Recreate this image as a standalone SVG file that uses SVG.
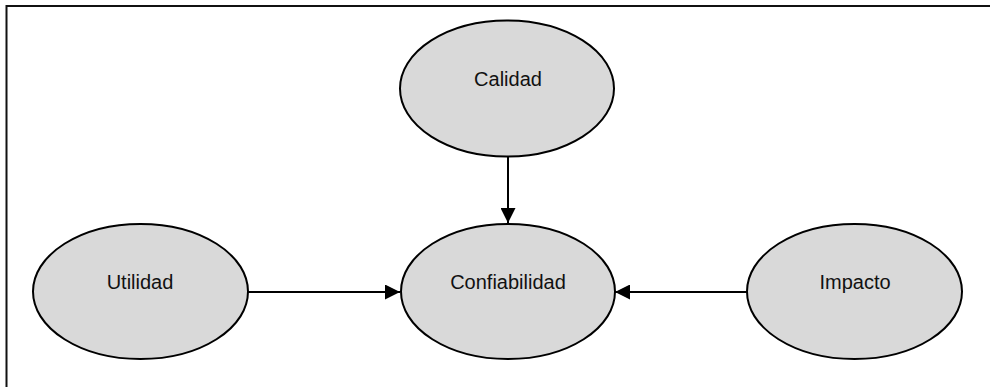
<svg xmlns="http://www.w3.org/2000/svg" width="990" height="387" viewBox="0 0 990 387">
<defs>
<style>
.node ellipse{fill:#d9d9d9;stroke:#000;stroke-width:2}
.node text{font-family:"Liberation Sans",Arial,sans-serif;font-size:20px;fill:#111;text-anchor:middle}
.edge{stroke:#000;stroke-width:2;fill:none;marker-end:url(#arr)}
.frame{stroke:#111;stroke-width:2;fill:none}
</style>
<marker id="arr" viewBox="0 0 15 15" refX="15" refY="7.5" markerWidth="15" markerHeight="15" markerUnits="userSpaceOnUse" orient="auto">
<path d="M0,0 L15,7.5 L0,15 Z" fill="#000"/>
</marker>
</defs>
<rect width="990" height="387" fill="#fff"/>
<path class="frame" d="M6.5,392 V6 H995"/>
<g id="connectors">
<line class="edge" x1="508" y1="157" x2="508" y2="223"/>
<line class="edge" x1="248" y1="292" x2="400" y2="292"/>
<line class="edge" x1="747" y1="292" x2="615" y2="292"/>
</g>
<g id="calidad" class="node">
<ellipse cx="507" cy="88.5" rx="107" ry="68"/>
<text x="508" y="86">Calidad</text>
</g>
<g id="utilidad" class="node">
<ellipse cx="140.5" cy="291.5" rx="107.5" ry="67.5"/>
<text x="140" y="289">Utilidad</text>
</g>
<g id="confiabilidad" class="node">
<ellipse cx="508" cy="291.5" rx="107" ry="67.5"/>
<text x="508" y="289">Confiabilidad</text>
</g>
<g id="impacto" class="node">
<ellipse cx="854.5" cy="291.5" rx="107.5" ry="67.5"/>
<text x="855" y="289">Impacto</text>
</g>
</svg>
